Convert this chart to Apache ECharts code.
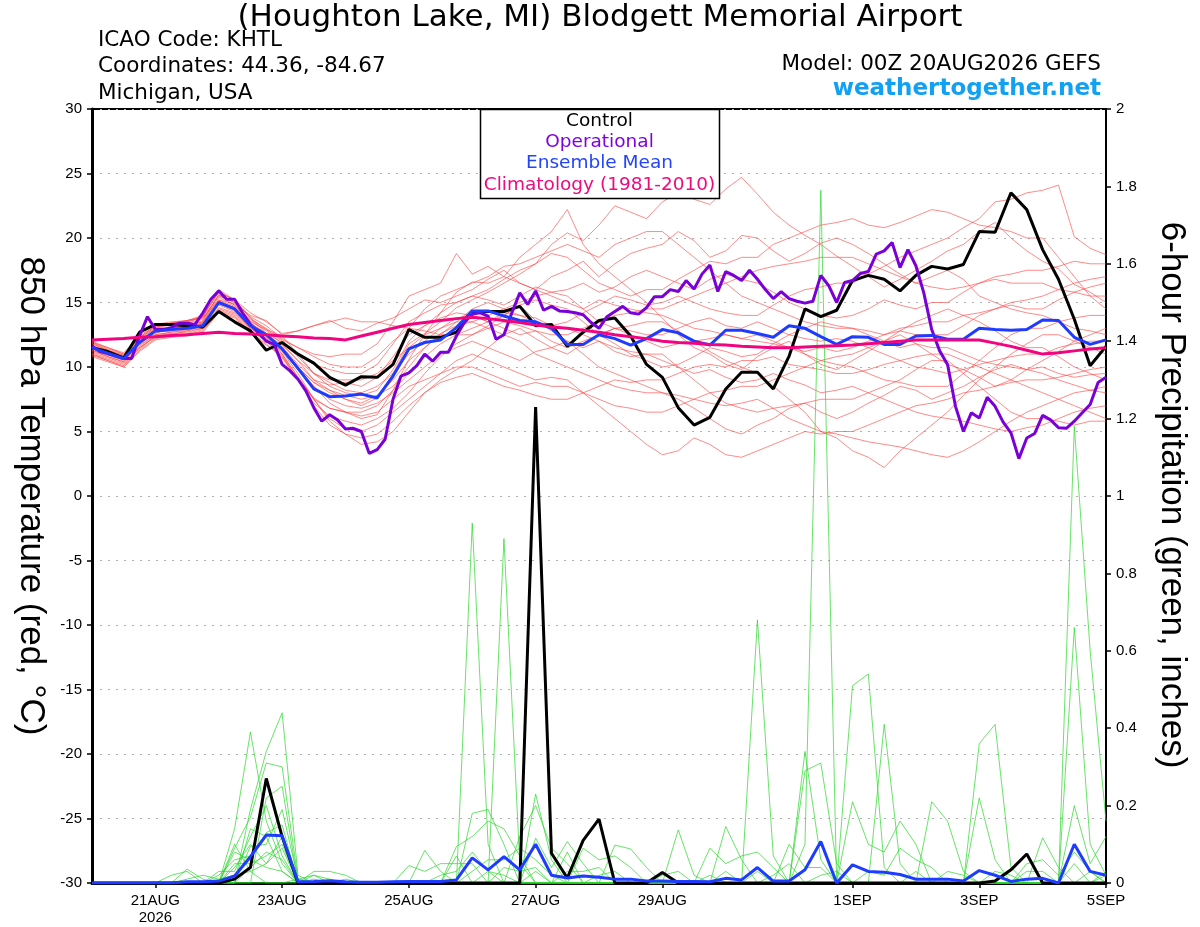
<!DOCTYPE html>
<html><head><meta charset="utf-8">
<script src="https://cdn.jsdelivr.net/npm/echarts/dist/echarts.min.js"></script>
<style>html,body{margin:0;padding:0;background:#fff}#c{width:1200px;height:927px}</style>
</head><body><div id="c"></div>
<script>
// x positions: 3-hourly steps from 00Z 20AUG2026 (129 steps); 6-hourly series use every 2nd step
const tickIdx=[8,24,40,56,72,96,112,128];
const tickLabels=['21AUG\n2026','23AUG','25AUG','27AUG','29AUG','1SEP','3SEP','5SEP'];

const controlT=[11.5,11.2,10.7,12.7,13.3,13.3,13.2,13.1,14.3,13.5,12.8,11.3,11.9,
11.0,10.3,9.2,8.6,9.25,9.2,10.2,12.9,12.3,12.3,12.7,14.2,
14.3,14.3,14.7,13.2,13.3,11.6,12.7,13.6,13.8,12.4,10.2,9.2,
6.85,5.5,6.1,8.3,9.6,9.6,8.3,10.85,14.5,13.9,14.4,16.7,
17.1,16.8,15.9,17.1,17.8,17.6,17.95,20.5,20.45,23.5,22.2,19.1,16.8,13.7,10.1,11.6];
const controlP=[0,0,0,0,0,0,0,0,0,.01,.04,.27,.12,
0,0,0,0,0,0,0,0,0,0,0,0,
0,0,0,1.23,.077,.013,.11,.165,0,0,0,.027,
0,0,0,0,0,0,0,0,0,0,0,0,
0,0,0,0,0,0,0,0,.005,.034,.075,0,0,0,0,0];
const meanT=[11.5,11.05,10.65,11.9,12.8,12.9,13.0,13.2,15.0,14.5,13.2,12.5,11.4,
9.9,8.3,7.7,7.75,7.9,7.6,9.3,11.4,11.9,12.1,13.05,14.35,
14.35,13.95,13.6,13.5,13.0,11.75,11.75,12.5,12.2,11.7,12.2,12.9,
12.65,12.0,11.7,12.85,12.85,12.6,12.3,13.2,13.0,12.35,11.75,12.35,
12.3,11.75,11.75,12.4,12.45,12.15,12.15,13.0,12.9,12.85,12.9,13.65,13.6,12.3,11.75,12.1];
const meanP=[0,0,0,0,0,0,.003,.003,.005,.018,.068,.124,.122,
.003,.004,.006,.003,.002,.002,.003,.004,.004,.004,.008,.065,
.034,.068,.034,.1,.02,.013,.018,.015,.01,.01,.005,.005,
.004,.004,.003,.012,.008,.04,.005,.005,.034,.107,0,.047,
.03,.028,.022,.01,.01,.01,.005,.032,.02,.004,.01,.012,0,.1,.03,.02];
const operT=[11.6,11.2,11.05,10.85,10.65,10.65,12.4,13.9,12.9,12.9,13.05,13.4,13.4,13.3,14.2,15.25,
15.9,15.25,15.25,14.2,13.3,12.65,12.0,11.75,10.2,9.7,9.05,8.15,6.85,5.8,6.3,5.9,
5.2,5.25,5.0,3.3,3.6,4.4,7.5,9.3,9.55,10.1,11.0,10.45,11.15,11.15,12.4,13.45,
14.1,14.2,13.95,12.15,12.5,14.2,15.75,14.85,15.9,14.4,14.7,14.35,14.3,14.2,14.05,13.45,
13.0,13.9,14.3,14.7,14.2,14.1,14.6,15.45,15.45,16.0,15.85,16.7,16.05,17.2,17.9,15.85,
17.4,17.1,16.7,17.5,16.8,16.0,15.3,15.85,15.3,15.1,14.95,15.1,17.1,16.3,15.0,16.55,
16.7,17.25,17.4,18.75,19.0,19.65,17.7,19.1,17.85,15.75,12.9,11.25,10.2,6.95,5.0,6.45,
6.05,7.65,6.95,5.75,4.9,2.9,4.5,4.85,6.25,5.9,5.3,5.25,5.8,6.45,7.1,8.8,
9.2];
const climT=[12.1,12.15,12.2,12.3,12.35,12.45,12.5,12.6,12.7,12.6,12.55,12.5,12.4,
12.35,12.25,12.2,12.1,12.4,12.7,13.0,13.3,13.45,13.6,13.75,13.85,
13.75,13.6,13.45,13.25,13.1,13.0,12.85,12.7,12.5,12.35,12.2,12.0,
11.9,11.85,11.75,11.7,11.6,11.55,11.5,11.5,11.55,11.6,11.65,11.7,
11.8,11.9,12.0,12.1,12.1,12.1,12.1,12.1,11.85,11.6,11.3,11.0,11.1,11.25,11.4,11.5];

const memT1=[11.2,10.8,10.4,11.8,12.6,13.0,13.2,13.6,15.6,14.8,13.6,12.8,11.8,10.5,9.0,8.2,7.5,7.0,7.6,9.5,11.8,12.6,13.5,14.6,15.2,15.8,16.5,17.2,18.0,19.5,20.4,19.8,21.0,22.5,22.0,21.5,22.8,23.5,23.0,22.6,23.8,24.7,23.4,22.0,21.0,20.2,19.5,18.6,17.8,17.0,16.2,16.8,17.5,18.2,19.0,19.5,20.5,21.2,20.0,19.0,18.2,17.6,16.4,15.8,15.0];
const memT2=[11.8,11.3,10.9,12.2,13.1,13.4,13.5,13.9,16.0,15.2,13.8,12.6,11.0,9.2,7.6,6.8,6.5,6.0,6.3,8.2,10.6,12.5,14.2,15.8,16.6,16.5,17.0,18.5,19.5,20.5,22.2,19.5,18.0,17.0,16.0,15.0,13.8,12.5,11.5,11.0,10.2,9.8,10.8,11.5,12.0,11.0,10.2,9.8,10.5,11.2,12.0,12.5,11.8,11.0,10.2,9.8,9.2,8.5,9.0,9.8,10.5,11.2,12.0,12.5,13.0];
const memT3=[11.6,11.2,10.8,12.0,13.0,13.3,13.6,13.8,15.2,14.9,14.0,13.6,12.5,12.8,13.2,13.6,13.0,12.8,13.4,13.8,14.5,15.2,15.0,15.5,16.0,16.8,17.5,16.5,16.0,17.0,17.5,18.2,17.0,18.0,18.8,19.2,19.5,20.5,19.8,18.5,19.0,20.2,20.0,19.0,18.2,18.8,19.6,20.0,19.5,18.8,18.0,17.2,16.5,17.0,17.5,16.8,15.5,15.0,14.5,14.2,14.0,13.5,13.0,12.8,12.5];
const memT4=[11.0,10.6,10.2,11.4,12.4,12.5,12.8,13.0,14.6,14.2,13.0,12.2,11.2,9.5,7.5,5.8,4.8,4.0,4.2,5.0,6.5,8.0,9.0,9.8,10.5,11.5,12.5,13.0,12.2,11.5,12.0,11.0,10.0,9.5,9.0,8.5,8.0,7.5,6.8,6.0,5.2,4.8,5.5,6.0,6.8,7.2,6.5,6.0,6.5,7.2,7.8,8.5,8.2,7.5,8.0,8.5,9.2,9.8,10.2,9.8,9.5,9.0,8.6,8.2,8.0];
const memT5=[11.4,11.0,10.6,11.9,12.7,12.8,13.0,13.3,15.0,14.6,13.4,12.6,11.6,10.2,9.0,8.6,8.8,8.5,9.2,10.8,12.5,13.2,13.8,14.2,14.0,13.5,14.0,14.8,13.6,12.8,12.0,11.5,12.0,11.2,10.8,11.0,10.5,10.0,9.5,9.8,9.2,8.8,9.0,9.5,9.0,8.6,8.0,8.2,8.5,8.0,7.5,7.0,6.5,6.2,6.0,5.8,5.5,5.2,5.0,5.3,5.5,6.0,6.5,6.8,7.0];
const memT6=[11.7,11.2,10.8,12.1,13.0,13.1,13.2,13.5,15.4,14.8,13.5,12.9,12.0,11.0,10.2,9.8,9.5,9.5,10.2,11.8,13.5,14.2,14.8,15.0,15.5,15.2,14.8,15.5,16.2,15.8,16.0,16.5,15.8,16.2,17.0,17.5,17.0,16.5,16.0,16.8,17.2,16.8,16.5,15.8,15.0,14.5,14.0,13.8,14.0,14.5,15.2,14.8,14.5,15.0,15.0,15.8,16.5,17.0,17.2,17.5,17.5,17.8,18.2,18.0,18.0];
const memT7=[11.0,10.5,10.1,11.5,12.3,12.4,12.6,12.9,14.4,14.0,12.8,12.0,10.8,9.0,7.2,6.2,5.8,5.5,6.0,6.8,8.0,9.5,10.8,11.8,12.5,13.2,14.0,14.8,15.2,14.8,14.5,13.5,12.5,11.8,11.0,10.5,10.0,10.2,10.8,11.5,11.2,10.8,11.0,11.8,12.5,13.0,13.5,13.2,13.0,12.5,12.0,11.5,11.8,11.5,11.5,11.0,10.5,10.2,10.0,9.8,10.0,9.5,9.2,9.4,9.5];
const memT8=[11.3,10.9,10.5,11.7,12.5,12.7,12.9,13.1,14.8,14.3,13.1,12.3,11.4,10.0,8.8,8.2,7.8,7.5,7.8,8.5,10.0,11.5,12.6,13.2,13.5,13.0,12.5,12.0,11.0,10.5,10.0,9.5,9.0,8.5,8.2,8.0,8.0,7.8,7.5,7.2,7.0,7.2,7.5,6.8,6.0,5.5,5.0,4.8,4.5,4.2,4.0,3.8,3.5,3.2,3.0,3.5,4.2,5.0,5.8,6.5,7.0,7.5,8.0,8.2,8.5];
const memT9=[11.9,11.4,11.0,12.3,13.2,13.4,13.5,13.8,15.5,15.0,13.9,13.2,12.2,11.5,11.0,10.8,11.0,11.0,11.8,13.5,15.5,16.0,16.5,18.8,17.2,17.8,17.0,16.5,16.0,15.5,15.0,14.5,15.2,14.8,14.5,14.2,14.0,13.5,13.0,12.8,12.5,12.2,12.0,11.8,11.5,11.2,11.5,11.2,11.5,12.0,12.5,13.0,13.2,13.5,13.5,14.0,14.2,14.5,14.8,14.5,14.5,15.2,15.8,16.2,16.5];
const memT10=[11.1,10.7,10.3,11.5,12.4,12.6,12.7,13.0,14.5,14.1,12.9,12.0,11.0,9.2,7.5,6.0,5.2,5.0,5.5,6.5,7.5,8.5,9.5,10.5,11.0,10.5,10.0,9.5,9.0,9.2,9.0,8.0,7.0,6.0,5.0,4.0,3.2,3.5,4.5,4.0,3.2,3.0,3.5,4.0,4.5,5.0,4.8,5.0,5.0,5.5,6.0,6.5,7.0,7.2,7.5,8.0,8.2,8.5,8.8,9.0,9.0,9.2,9.5,9.8,10.0];
const memT11=[11.5,11.0,10.6,11.8,12.7,12.9,13.1,13.4,15.1,14.6,13.3,12.5,11.5,10.0,8.5,7.2,6.5,6.5,7.0,8.2,9.5,10.8,11.8,12.5,13.0,13.5,14.2,14.0,13.8,13.2,13.5,14.2,14.8,15.5,15.2,14.8,15.0,15.5,15.0,14.5,14.2,14.0,14.0,14.8,15.5,16.0,16.2,16.5,16.5,17.2,17.8,18.5,19.0,19.5,20.0,20.8,21.5,22.8,23.0,23.5,23.7,24.1,20.1,19.2,18.7];
const memT12=[12.0,11.5,11.1,12.4,13.3,13.5,13.6,13.9,15.8,15.2,13.8,12.9,12.4,11.0,9.5,8.8,8.2,8.0,8.5,9.5,11.0,12.0,13.0,13.8,14.0,13.5,13.0,12.5,12.8,12.0,11.5,12.0,12.5,13.0,12.8,12.5,12.5,13.0,13.5,13.8,13.2,13.0,13.5,13.0,12.5,12.2,12.0,12.2,12.0,11.5,11.0,10.5,10.0,9.8,9.5,9.8,10.2,10.5,10.8,11.0,11.0,11.5,11.8,12.0,12.0];
const memT13=[10.9,10.5,10.0,11.2,12.1,12.3,12.4,12.7,14.2,13.8,12.6,11.7,10.9,9.0,7.0,5.5,4.8,4.5,4.8,5.8,7.0,8.0,8.8,9.2,9.5,9.0,8.5,8.2,7.8,7.5,7.5,8.0,8.5,9.0,8.8,9.0,9.0,9.5,10.0,10.2,10.0,10.5,10.5,10.8,10.2,10.0,9.8,9.5,9.5,9.8,10.2,10.5,10.8,11.0,11.0,10.5,10.0,9.5,9.0,8.5,8.0,7.5,7.0,6.5,6.0];
const memT14=[11.6,11.1,10.7,12.0,12.9,13.0,13.2,13.5,15.2,14.7,13.4,12.6,11.9,10.8,9.5,8.5,8.0,7.8,8.2,9.8,12.0,13.2,14.2,15.0,15.5,16.0,16.8,17.5,18.0,18.8,18.5,17.5,16.5,16.0,15.5,16.0,16.0,16.8,17.5,18.2,18.0,18.5,18.5,19.5,20.0,20.5,21.0,21.2,21.5,21.0,20.8,21.2,21.7,22.2,22.0,21.5,21.0,20.8,20.5,20.0,20.0,18.5,17.0,15.5,14.5];
const memT15=[11.3,10.8,10.4,11.6,12.5,12.7,12.8,13.2,14.9,14.4,13.0,12.2,11.3,9.8,8.5,7.5,7.0,6.8,7.2,8.0,9.0,10.0,11.0,11.5,12.0,11.5,11.0,10.5,11.2,11.5,11.0,11.8,12.5,13.0,13.2,13.5,13.5,12.8,12.0,11.2,10.5,10.0,9.5,8.5,7.5,6.5,5.0,4.5,3.5,3.0,2.2,3.5,4.5,5.5,6.5,7.8,9.0,10.0,11.0,11.8,12.5,12.5,12.0,11.5,11.0];
const memT16=[11.8,11.3,10.9,12.2,13.1,13.3,13.4,13.7,15.6,15.0,13.7,13.0,12.1,11.5,10.8,10.2,10.0,10.0,10.8,12.0,13.0,14.5,15.5,16.0,16.5,17.0,17.8,18.0,18.5,19.0,19.5,19.0,18.5,19.5,20.0,20.5,20.5,19.5,18.5,17.5,16.5,15.5,15.0,14.5,14.0,13.5,13.2,13.0,13.0,12.8,12.5,12.8,12.5,12.5,12.5,13.2,14.0,14.5,15.0,15.2,15.5,16.0,16.5,16.8,17.0];
const memT17=[11.6,11.2,10.7,12.0,12.8,12.9,13.1,13.3,15.1,14.6,13.3,12.5,11.7,10.5,9.5,9.0,9.0,9.0,9.5,10.5,11.5,12.5,13.0,13.5,13.5,14.0,14.5,15.0,15.5,15.8,15.5,14.5,13.5,13.0,12.5,12.0,11.5,11.8,12.0,12.2,12.5,12.2,12.5,12.0,11.5,11.0,10.5,10.2,10.0,9.5,9.0,8.8,8.5,8.5,8.5,9.5,10.5,11.5,12.5,13.0,13.0,13.5,13.8,14.0,14.0];
const memT18=[10.8,10.4,10.0,11.3,12.2,12.4,12.5,12.8,14.3,13.9,12.7,11.8,10.7,9.0,7.5,6.8,6.5,6.2,6.5,7.5,8.5,9.0,9.5,10.0,10.0,9.5,9.0,8.5,8.8,8.5,8.5,8.0,7.5,7.0,6.8,6.5,6.5,7.0,7.5,8.0,8.2,8.5,8.5,9.0,9.5,10.0,10.5,10.8,11.0,11.5,12.0,12.8,13.5,14.0,14.5,14.0,13.5,12.8,12.0,11.5,11.5,10.8,10.0,9.5,9.0];
const memT19=[11.9,11.5,11.0,12.3,13.2,13.4,13.6,14.0,15.8,15.2,14.2,13.5,12.6,12.8,13.2,13.5,13.8,13.5,13.5,13.2,13.0,12.8,12.5,12.5,12.5,13.0,13.5,13.2,12.8,12.5,12.5,13.0,13.5,14.0,14.2,14.5,14.5,15.0,15.5,16.0,16.5,17.0,17.5,17.8,18.0,18.2,18.5,18.5,18.5,18.0,17.5,17.0,16.5,16.2,16.0,16.2,16.5,16.8,16.5,16.5,16.5,16.0,15.8,15.5,15.5];
const memT20=[11.5,11.0,10.6,11.9,12.8,13.0,13.1,13.4,15.0,14.5,13.2,12.4,11.5,10.0,8.8,8.0,7.5,7.2,7.8,9.0,10.5,11.5,12.5,13.5,14.5,15.0,14.5,14.0,13.5,13.2,13.0,12.5,12.0,11.5,11.2,11.0,11.0,10.0,9.0,8.0,7.2,6.8,6.5,6.8,7.0,7.2,7.5,7.5,7.5,8.0,8.5,9.0,9.8,10.5,10.5,9.5,8.5,7.5,6.5,6.0,6.0,5.8,5.5,5.8,5.8];
const membersT=[memT1,memT2,memT3,memT4,memT5,memT6,memT7,memT8,memT9,memT10,memT11,memT12,memT13,memT14,memT15,memT16,memT17,memT18,memT19,memT20];

const memP1=[0,0,0,0,0,0,0,0,0,.14,.39,.16,.05, 0,0,0,0,0,0,0,0,0,0,0,.93, .1,0,0,0,0,0,0,0,0,0,0,0, 0,0,0,0,0,0,0,0,.1,1.79,0,0, 0,0,0,0,0,0,0,0,0,0,0,0,0,.05,0,0];
const memP2=[0,0,0,0,0,0,0,0,0,0,.19,.34,.44, .02,0,0,0,0,0,0,0,0,0,0,0, 0,.89,.05,0,0,0,0,0,0,0,0,0, 0,0,0,0,0,0,0,0,0,0,0,.51, .54,.04,0,0,0,0,0,0,0,0,0,0,0,0,.03,0];
const memP3=[0,0,0,0,0,0,0,0,0,.09,.17,.31,.30, .01,0,0,0,0,0,0,0,0,0,0,.18, .19,.1,0,0,0,0,0,0,0,0,0,0, 0,0,0,0,0,.68,.07,0,0,0,0,0, 0,0,0,0,0,0,0,0,0,0,0,0,0,1.18,.6,.16];
const memP4=[0,0,0,0,0,0,0,0,0,0,0,.22,.25, 0,0,0,0,0,0,0,0,0,0,0,0, 0,0,0,.23,.06,0,0,0,0,0,0,0, 0,0,0,0,0,0,0,0,0,0,0,0, 0,.41,.05,0,0,0,0,0,0,0,0,0,0,.66,.1,.02];
const memP5=[0,0,0,0,0,0,.036,.01,0,0,.095,.1,.19, .01,0,0,0,0,0,0,0,.084,.03,0,0, 0,0,0,0,0,0,0,0,0,0,0,0, .137,.02,0,0,0,0,0,0,0,0,0,0, 0,0,0,0,0,0,0,.36,.41,.04,0,0,0,0,0,0];
const memP6=[0,0,0,0,0,0,0,0,.02,.06,.07,.13,.15, 0,0,0,0,0,0,0,0,0,0,.094,.12, .16,.14,.07,0,0,0,0,0,0,0,0,0, 0,0,0,0,0,0,0,0,.34,.06,0,0, 0,0,0,0,.21,.16,.03,0,0,0,0,0,0,0,0,0];
const memP7=[0,0,0,0,0,0,0,0,0,.05,.05,.07,.1, 0,.03,.03,.02,0,0,0,0,0,0,0,0, 0,0,0,.116,.04,.107,.05,0,0,0,0,0, 0,0,0,0,0,0,0,0,.29,.31,.05,0, 0,0,0,0,0,0,0,0,0,0,0,.117,.04,0,0,0];
const memP8=[0,0,0,0,0,0,0,0,.03,.03,.12,.2,.07, 0,0,0,0,0,0,0,0,0,0,0,0, 0,0,.12,.2,.09,.05,0,0,0,0,0,0, 0,0,0,0,0,0,0,0,0,0,0,.21, .1,.08,.16,.1,0,0,0,0,0,0,0,0,0,.2,.05,.12];
const memP9=[0,0,0,0,0,0,.01,.02,.01,.02,.03,.05,.12, 0,0,0,0,0,0,0,.045,.03,.05,.05,.05, 0,0,0,0,0,0,0,0,.098,.088,.04,0, 0,0,0,.146,.06,0,0,0,0,0,0,0, 0,0,0,0,0,0,0,.22,.06,0,0,0,0,0,0,0];
const memP10=[0,0,0,0,0,0,0,0,0,.08,.06,.04,.03, 0,0,0,0,0,0,0,0,0,0,0,.03, .06,.06,.09,.06,.02,0,0,0,0,0,0,0, 0,0,.09,.05,.07,.08,.04,0,0,0,0,0, 0,0,0,0,0,0,0,0,0,0,0,0,0,0,0,.03];
const memP11=[0,0,0,0,0,0,0,0,0,.1,.03,0,0, 0,0,0,0,0,0,0,0,0,.02,.03,.08, .03,0,0,0,0,0,.09,.06,.07,.04,0,0, 0,0,0,0,0,0,0,.1,.04,.04,0,0, 0,0,0,0,0,0,0,0,0,0,.05,.06,.02,.08,.03,0];
const memP12=[0,0,0,0,0,0,0,0,0,0,0,0,0, .01,.02,.01,0,0,0,0,0,0,0,.07,0, 0,.04,.03,.04,0,.03,.03,.04,0,0,0,0, 0,0,0,0,0,0,.02,.05,0,0,0,0, .03,.02,.09,.06,.04,0,0,0,0,0,0,0,0,0,0,.02];
const memP13=[0,0,0,0,0,.02,.03,0,0,0,0,0,0, 0,.01,0,.01,0,0,0,0,0,0,0,0, 0,0,0,.03,0,.08,0,.02,.03,0,0,.02, .03,0,.02,0,0,0,0,0,0,.02,.03,0, 0,0,0,0,0,.03,.02,0,0,0,.03,.03,0,0,0,0];
const memP14=[0,0,0,0,0,0,0,0,0,0,.04,.08,.06, 0,0,0,0,0,0,0,0,0,0,0,0, 0,0,0,0,0,0,0,0,0,0,0,0, 0,0,0,.03,0,.03,0,0,0,0,0,0, 0,0,0,.03,0,0,0,0,.03,.02,0,0,0,0,0,0];
const memP15=[0,0,0,0,0,0,0,0,0,.04,.1,.05,.09, 0,0,0,0,0,0,0,0,0,0,0,0, .03,.02,0,0,0,0,0,0,0,0,0,0, 0,0,0,0,0,0,0,0,0,0,0,0, 0,0,0,0,0,0,0,0,0,0,0,0,0,0,0,0];
const memP16=[0,0,0,0,0,0,0,0,0,0,.14,.12,.03, 0,.02,0,0,0,0,0,0,0,0,0,0, 0,0,0,0,0,0,0,0,0,0,0,0, 0,0,0,0,0,0,0,0,0,0,0,0, 0,0,0,0,0,0,0,0,0,0,0,0,0,0,0,0];
const membersP=[memP1,memP2,memP3,memP4,memP5,memP6,memP7,memP8,memP9,memP10,memP11,memP12,memP13,memP14,memP15,memP16];

const FONT='"Liberation Sans", Arial, Helvetica, sans-serif';
const WIDE='"DejaVu Sans", "Liberation Sans", sans-serif';
const cats=Array.from({length:129},(_,k)=>String(k));
const six=arr=>arr.map((v,i)=>[2*i,v]);
const showTick=(i)=>tickIdx.indexOf(i)>=0;

const series=[];
membersT.forEach(m=>series.push({type:'line',yAxisIndex:0,data:six(m),symbol:'none',silent:true,
  lineStyle:{color:'#ff3a3a',width:0.8,opacity:0.75}}));
membersP.forEach(m=>series.push({type:'line',yAxisIndex:1,data:six(m),symbol:'none',silent:true,
  lineStyle:{color:'#2ed62e',width:0.8,opacity:0.9}}));
series.push({type:'line',yAxisIndex:0,data:six(controlT),symbol:'none',lineStyle:{color:'#000',width:3}});
series.push({type:'line',yAxisIndex:0,data:operT,symbol:'none',lineStyle:{color:'#7a00d8',width:3}});
series.push({type:'line',yAxisIndex:0,data:six(meanT),symbol:'none',lineStyle:{color:'#1e3cff',width:3}});
series.push({type:'line',yAxisIndex:0,data:six(climT),symbol:'none',lineStyle:{color:'#f0047f',width:3}});
series.push({type:'line',yAxisIndex:1,data:six(controlP),symbol:'none',lineStyle:{color:'#000',width:3}});
series.push({type:'line',yAxisIndex:1,data:six(meanP),symbol:'none',lineStyle:{color:'#1e3cff',width:3}});

const txt=(t,x,y,size,opts)=>Object.assign({type:'text',x:x,y:y,z:100,
  style:Object.assign({text:t,fontSize:size,fontFamily:WIDE,fill:'#000',align:'left',verticalAlign:'middle',
  textAlign:'left',textVerticalAlign:'middle'},opts||{})});

const chart=echarts.init(document.getElementById('c'),null,{renderer:'canvas'});
chart.setOption({
  animation:false,
  backgroundColor:'#fff',
  grid:{left:92,right:94,top:109,bottom:44,show:true,borderColor:'#000',borderWidth:2,backgroundColor:'transparent'},
  xAxis:{type:'category',data:cats,boundaryGap:false,
    axisLine:{onZero:false,lineStyle:{color:'#000',width:3}},
    axisTick:{interval:(i)=>showTick(i),length:5,lineStyle:{color:'#000',width:1.5}},
    axisLabel:{interval:(i)=>showTick(i),formatter:(v,i)=>{const j=tickIdx.indexOf(Number(v));return j>=0?tickLabels[j]:'';},
      color:'#000',fontSize:15,fontFamily:FONT,margin:9,lineHeight:17,hideOverlap:false,showMaxLabel:true},
    splitLine:{show:false}},
  yAxis:[
    {type:'value',min:-30,max:30,interval:5,position:'left',
     axisLine:{show:true,onZero:false,lineStyle:{color:'#000',width:3}},
     axisTick:{show:true,length:5,lineStyle:{color:'#000',width:1.5}},
     axisLabel:{color:'#000',fontSize:15,fontFamily:FONT,margin:10},
     splitLine:{show:true,lineStyle:{color:'#b0b0b0',width:1,type:[2,6]}}},
    {type:'value',min:0,max:2,interval:0.2,position:'right',
     axisLine:{show:true,onZero:false,lineStyle:{color:'#000',width:2}},
     axisTick:{show:true,length:5,lineStyle:{color:'#000',width:1.5}},
     axisLabel:{color:'#000',fontSize:15,fontFamily:FONT,margin:10,formatter:v=>String(+v.toFixed(1))},
     splitLine:{show:false}}
  ],
  series:series,
  graphic:[
    txt('(Houghton Lake, MI) Blodgett Memorial Airport',600,18,31,{align:'center',textAlign:'center'}),
    txt('ICAO Code: KHTL',98,40,21.5),
    txt('Coordinates: 44.36, -84.67',98,66,21.5),
    txt('Michigan, USA',98,93,21.5),
    txt('Model: 00Z 20AUG2026 GEFS',1101,64,21.5,{align:'right',textAlign:'right'}),
    txt('weathertogether.net',1101,89,23,{align:'right',textAlign:'right',fontWeight:'bold',fill:'#10a0f4'}),
    {type:'rect',z:99,shape:{x:480.5,y:109.5,width:239,height:89},style:{fill:'#fff',stroke:'#000',lineWidth:1.5}},
    txt('Control',599.5,121.5,18.5,{align:'center',textAlign:'center'}),
    txt('Operational',599.5,142,18.5,{align:'center',textAlign:'center',fill:'#8000e0'}),
    txt('Ensemble Mean',599.5,163.5,18.5,{align:'center',textAlign:'center',fill:'#2244ff'}),
    txt('Climatology (1981-2010)',599.5,185,18.5,{align:'center',textAlign:'center',fill:'#ee0a80'}),
    Object.assign(txt('850 hPa Temperature (red, \u00B0C)',31,496,35,{align:'center',textAlign:'center',fontFamily:FONT}),{rotation:-Math.PI/2}),
    Object.assign(txt('6-hour Precipitation (green, inches)',1172,495,35,{align:'center',textAlign:'center',fontFamily:FONT}),{rotation:-Math.PI/2})
  ]
});
</script></body></html>
